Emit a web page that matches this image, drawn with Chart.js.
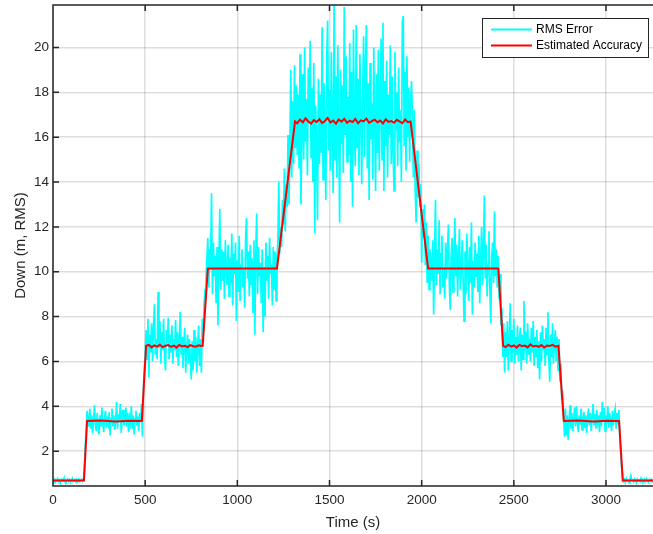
<!DOCTYPE html>
<html>
<head>
<meta charset="utf-8">
<script src="https://cdn.jsdelivr.net/npm/chart.js@4.4.1/dist/chart.umd.min.js"></script>
<style>
  html, body { margin: 0; padding: 0; background: #fff; }
  canvas { display: block; }
</style>
</head>
<body>
<canvas id="accChart" width="653" height="534"></canvas>
<script>
// axis ticks
const xTicks = [0, 500, 1000, 1500, 2000, 2500, 3000];
const yTicks = [2, 4, 6, 8, 10, 12, 14, 16, 18, 20];

// RMS error, one sample every 5 s starting at t = 0 (each row = 50 s)
const rmsStart = 0;
const rmsStep = 5;
const rmsError = [
  0.72,0.66,0.75,0.63,0.70,0.78,0.65,0.71,0.60,0.74,   // 0
  0.68,0.77,0.64,0.72,0.58,0.70,0.76,0.66,0.73,0.62,   // 50
  0.71,0.79,0.65,0.69,0.74,0.61,0.72,0.67,0.76,0.64,   // 100
  0.70,0.75,0.66,0.72,1.30,2.20,3.00,3.80,3.50,3.10,   // 150
  3.90,3.00,3.60,2.80,3.40,4.05,3.20,2.90,3.70,3.30,   // 200
  2.75,3.60,3.10,3.95,3.30,2.85,3.50,3.80,3.05,3.40,   // 250
  3.20,3.75,2.70,3.45,3.90,3.10,3.60,2.95,3.35,4.20,   // 300
  3.00,3.65,3.30,4.10,2.80,3.55,3.85,3.15,3.40,3.95,   // 350
  3.10,3.70,2.85,3.50,3.25,4.00,3.00,3.60,2.75,3.45,   // 400
  3.80,3.15,3.55,2.90,3.70,3.30,4.10,2.65,4.70,5.60,   // 450
  6.30,7.40,6.10,7.90,5.30,7.20,6.40,7.70,6.00,7.50,   // 500
  8.55,6.30,7.00,6.10,9.10,6.60,7.80,5.90,7.30,6.50,   // 550
  7.90,6.20,5.60,7.40,6.80,7.95,6.10,7.20,6.40,7.60,   // 600
  5.90,7.00,6.50,7.85,6.20,7.30,5.80,6.90,8.20,6.30,   // 650
  7.10,5.70,6.80,7.50,5.50,6.60,7.20,5.90,7.00,6.10,   // 700
  5.20,6.90,5.60,7.40,6.00,7.10,5.50,6.70,7.60,5.80,   // 750
  7.00,5.50,7.90,7.20,8.60,9.20,9.70,10.6,11.5,9.30,   // 800
  11.0,10.2,13.5,9.00,11.3,9.80,10.7,8.60,11.1,7.60,   // 850
  10.4,12.8,9.20,11.0,9.60,10.9,8.80,11.4,10.0,9.40,   // 900
  11.2,8.90,10.6,9.50,11.7,8.50,10.8,9.90,11.3,7.80,   // 950
  10.5,9.10,11.6,8.70,10.3,11.0,9.30,10.1,8.40,11.5,   // 1000
  12.4,9.70,10.9,8.90,11.2,9.40,10.6,8.20,11.4,7.20,   // 1050
  10.8,12.6,9.00,11.1,9.80,10.4,8.60,11.0,7.30,10.2,   // 1100
  8.00,11.3,9.60,10.7,8.80,11.5,9.90,10.3,8.50,11.1,   // 1150
  9.20,10.9,8.70,10.6,11.4,14.0,10.8,12.0,11.1,13.2,   // 1200
  12.1,14.6,11.8,13.9,12.9,16.1,13.0,15.4,19.0,14.2,   // 1250
  17.6,14.8,19.2,15.5,18.3,15.2,17.9,14.6,19.7,13.0,   // 1300
  16.2,18.8,15.0,20.0,15.8,17.7,14.3,19.1,16.6,20.3,   // 1350
  15.1,18.2,14.0,19.3,11.7,17.4,15.6,12.3,18.6,14.8,   // 1400
  17.9,15.3,20.9,14.1,18.4,16.0,13.2,19.5,21.2,15.4,   // 1450
  18.1,14.5,19.8,16.3,13.5,21.9,15.0,18.7,14.2,20.1,   // 1500
  16.5,12.2,19.0,15.7,18.3,14.4,21.8,16.1,19.6,14.9,   // 1550
  17.8,15.2,20.2,14.0,18.9,12.9,20.8,16.4,14.7,21.0,   // 1600
  15.5,18.6,14.3,19.7,16.8,13.9,18.0,20.5,15.1,19.2,   // 1650
  21.0,14.6,18.4,13.2,19.3,15.9,17.5,14.1,20.0,16.7,   // 1700
  13.6,18.8,15.3,19.9,14.5,17.6,20.4,15.0,21.1,13.6,   // 1750
  18.5,15.6,19.4,14.2,17.9,16.1,20.1,14.8,18.7,15.4,   // 1800
  13.6,19.8,16.3,18.0,14.7,19.1,15.8,17.2,14.0,21.1,   // 1850
  21.4,15.6,18.9,14.5,19.6,16.0,18.2,14.9,17.6,18.5,   // 1900
  16.9,14.2,17.2,13.6,12.2,15.4,13.3,14.8,12.9,13.9,   // 1950
  10.4,12.8,11.5,13.0,10.3,12.2,9.50,11.6,9.20,11.0,   // 2000
  10.3,9.60,11.4,8.10,10.6,13.2,9.40,11.0,9.90,12.3,   // 2050
  9.00,10.8,11.6,9.30,10.2,8.80,11.3,9.70,10.9,12.1,   // 2100
  9.50,8.30,10.7,11.5,9.10,10.4,12.4,9.80,11.2,8.90,   // 2150
  10.6,11.9,9.20,10.1,11.4,9.60,7.80,10.9,9.00,11.7,   // 2200
  10.2,8.70,11.1,9.50,12.2,8.10,10.5,9.30,11.3,9.80,   // 2250
  10.8,9.10,11.6,8.60,10.4,12.0,9.40,10.9,13.4,9.70,   // 2300
  11.2,8.90,10.3,11.8,9.20,7.70,10.6,11.3,9.50,12.7,   // 2350
  9.80,11.0,9.30,10.7,8.80,9.90,7.60,8.40,6.20,7.70,   // 2400
  5.50,7.30,6.20,7.80,5.60,6.90,8.60,6.00,7.40,6.40,   // 2450
  7.90,5.90,7.10,6.30,7.60,6.00,6.90,7.50,5.60,7.20,   // 2500
  6.10,8.70,6.50,7.30,5.90,7.70,6.30,7.00,6.00,7.50,   // 2550
  6.40,7.80,5.80,7.10,6.20,7.40,5.70,6.90,5.20,7.30,   // 2600
  6.00,7.60,6.50,7.00,5.80,7.50,6.30,8.20,6.10,5.10,   // 2650
  7.20,6.20,7.70,5.90,6.80,7.40,6.00,7.10,5.60,7.00,   // 2700
  5.10,5.90,4.30,4.70,3.60,2.65,3.90,2.70,3.60,2.50,   // 2750
  3.40,4.05,3.00,3.70,2.90,3.50,3.95,3.10,4.00,3.30,   // 2800
  2.85,3.60,3.20,3.90,2.95,3.45,3.75,3.05,3.60,2.80,   // 2850
  3.50,3.90,3.15,3.70,2.90,3.55,4.10,3.20,3.65,3.00,   // 2900
  3.85,3.30,3.60,2.85,3.75,3.10,4.20,3.40,3.95,2.90,   // 2950
  3.60,3.25,4.00,3.05,3.70,3.35,2.90,3.80,3.15,3.65,   // 3000
  3.90,3.00,3.70,3.20,3.85,2.60,1.90,1.30,0.80,0.66,   // 3050
  0.74,0.62,0.78,0.68,0.71,0.59,0.76,0.92,0.73,0.69,   // 3100
  0.63,0.77,0.70,0.60,0.75,0.67,0.72,0.64,0.79,0.68,   // 3150
  0.71,0.62,0.74,0.66,0.78,0.69,0.61,0.73,0.67,0.75,   // 3200
  0.65,0.72                                            // 3250
];

// estimated accuracy (time in s, value)
const accTimes = [
  0, 168, 185, 260, 340, 420, 482,
  505, 520, 535, 550, 565, 580, 595, 610, 625, 640, 655, 670, 685, 700, 715, 730, 745, 760, 775, 790, 805,
  812, 840, 1215, 1313,
  1325, 1340, 1355, 1370, 1385, 1400, 1415, 1430, 1445, 1460,
  1475, 1490, 1505, 1520, 1535, 1550, 1565, 1580, 1595, 1610,
  1625, 1640, 1655, 1670, 1685, 1700, 1715, 1730, 1745, 1760,
  1775, 1790, 1805, 1820, 1835, 1850, 1865, 1880, 1895, 1910,
  1925,
  1940, 2035, 2416, 2442,
  2455, 2470, 2485, 2500, 2515, 2530, 2545, 2560, 2575, 2590,
  2605, 2620, 2635, 2650, 2665, 2680, 2695, 2710, 2725,
  2742, 2771, 2850, 2930, 3010, 3071, 3091, 3255
];
const accValues = [
  0.7, 0.7, 3.35, 3.37, 3.33, 3.36, 3.35,
  6.7, 6.74, 6.63, 6.72, 6.66, 6.75, 6.64, 6.7, 6.73, 6.65, 6.71, 6.62, 6.74, 6.67, 6.7, 6.64, 6.73, 6.68, 6.66, 6.72, 6.69,
  6.7, 10.15, 10.15, 16.7,
  16.62, 16.78, 16.66, 16.84, 16.7, 16.6, 16.76, 16.68, 16.8, 16.63,
  16.72, 16.86, 16.65, 16.74, 16.6, 16.79, 16.69, 16.82, 16.64, 16.73,
  16.67, 16.81, 16.62, 16.75, 16.7, 16.83, 16.64, 16.71, 16.78, 16.66,
  16.74, 16.61, 16.8, 16.68, 16.72, 16.64, 16.77, 16.7, 16.62, 16.79,
  16.67,
  16.7, 10.15, 10.15, 6.7,
  6.64, 6.75, 6.66, 6.72, 6.62, 6.74, 6.68, 6.71, 6.63, 6.76,
  6.67, 6.7, 6.65, 6.73, 6.62, 6.71, 6.69, 6.74, 6.66,
  6.7, 3.35, 3.37, 3.33, 3.36, 3.35, 0.7, 0.7
];

const axisColor = '#262626';
const fontFamily = "'Liberation Sans', Arial, Helvetica, sans-serif";

// MATLAB style axes (right edge is cut off by the picture), inward ticks
const axesBox = {
  id: 'axesBox',
  afterDatasetsDraw(chart) {
    const {ctx, chartArea: a, scales: {x, y}} = chart;
    ctx.save();
    ctx.strokeStyle = axisColor;
    ctx.lineWidth = 1.5;
    ctx.beginPath();
    x.ticks.forEach(t => {
      const px = x.getPixelForValue(t.value);
      ctx.moveTo(px, a.bottom); ctx.lineTo(px, a.bottom - 6);
      ctx.moveTo(px, a.top); ctx.lineTo(px, a.top + 6);
    });
    y.ticks.forEach(t => {
      const py = y.getPixelForValue(t.value);
      ctx.moveTo(a.left, py); ctx.lineTo(a.left + 6, py);
    });
    ctx.moveTo(a.right + 2, a.top);
    ctx.lineTo(a.left, a.top);
    ctx.lineTo(a.left, a.bottom);
    ctx.lineTo(a.right + 2, a.bottom);
    ctx.stroke();
    ctx.restore();
  }
};

// legend box in the top right corner
const boxLegend = {
  id: 'boxLegend',
  afterDraw(chart) {
    const {ctx, chartArea: a} = chart;
    const sets = chart.data.datasets;
    ctx.save();
    ctx.font = '12px ' + fontFamily;
    const textW = Math.max(...sets.map(d => ctx.measureText(d.label).width));
    const w = Math.round(9 + 41 + 4 + textW + 6);
    const h = 39;
    const left = Math.round(chart.width - 5 - w);
    const top = a.top + 13;
    ctx.fillStyle = '#fff';
    ctx.fillRect(left, top, w, h);
    ctx.strokeStyle = axisColor;
    ctx.lineWidth = 1;
    ctx.strokeRect(left + 0.5, top + 0.5, w, h);
    sets.forEach((d, i) => {
      const cy = top + 11.5 + i * 16;
      ctx.strokeStyle = d.borderColor;
      ctx.lineWidth = 2;
      ctx.beginPath();
      ctx.moveTo(left + 9, cy);
      ctx.lineTo(left + 50, cy);
      ctx.stroke();
      ctx.fillStyle = '#000';
      ctx.textBaseline = 'middle';
      ctx.fillText(d.label, left + 54, cy + 0.5);
    });
    ctx.restore();
  }
};

const rmsPoints = rmsError.map((v, i) => ({x: rmsStart + i * rmsStep, y: v}));
const accPoints = accTimes.map((t, i) => ({x: t, y: accValues[i]}));

new Chart(document.getElementById('accChart'), {
  type: 'line',
  data: {
    datasets: [{
      label: 'RMS Error',
      data: rmsPoints,
      borderColor: '#00ffff',
      borderWidth: 1.7,
      pointRadius: 0,
      tension: 0,
      order: 2
    }, {
      label: 'Estimated Accuracy',
      data: accPoints,
      borderColor: '#ff0000',
      borderWidth: 2,
      pointRadius: 0,
      tension: 0,
      order: 1
    }]
  },
  options: {
    responsive: false,
    animation: false,
    layout: { padding: { top: 5, right: 0, left: 0, bottom: 0 } },
    plugins: {
      legend: { display: false },
      tooltip: { enabled: false }
    },
    scales: {
      x: {
        type: 'linear',
        min: 0,
        max: 3255,
        afterBuildTicks: s => { s.ticks = xTicks.map(v => ({value: v})); },
        afterFit: s => { s.height = 48; s.paddingLeft = 0; s.paddingRight = 0; },
        border: { display: false },
        grid: { color: 'rgba(0,0,0,0.13)', lineWidth: 1.5, drawTicks: false },
        ticks: {
          padding: 6,
          color: axisColor,
          maxRotation: 0,
          font: { family: fontFamily, size: 13.5 },
          callback: v => String(v)
        },
        title: {
          display: true,
          text: 'Time (s)',
          color: axisColor,
          font: { family: fontFamily, size: 15 },
          padding: { top: 0, bottom: 2 }
        }
      },
      y: {
        type: 'linear',
        min: 0.45,
        max: 21.89,
        afterBuildTicks: s => { s.ticks = yTicks.map(v => ({value: v})); },
        afterFit: s => { s.width = 53; s.paddingTop = 0; s.paddingBottom = 0; },
        border: { display: false },
        grid: { color: 'rgba(0,0,0,0.13)', lineWidth: 1.5, drawTicks: false },
        ticks: {
          padding: 4,
          color: axisColor,
          font: { family: fontFamily, size: 13.5 },
          callback: v => String(v)
        },
        title: {
          display: true,
          text: 'Down (m, RMS)',
          color: axisColor,
          font: { family: fontFamily, size: 15 },
          padding: { top: 12, bottom: 0 }
        }
      }
    }
  },
  plugins: [axesBox, boxLegend]
});
</script>
</body>
</html>
